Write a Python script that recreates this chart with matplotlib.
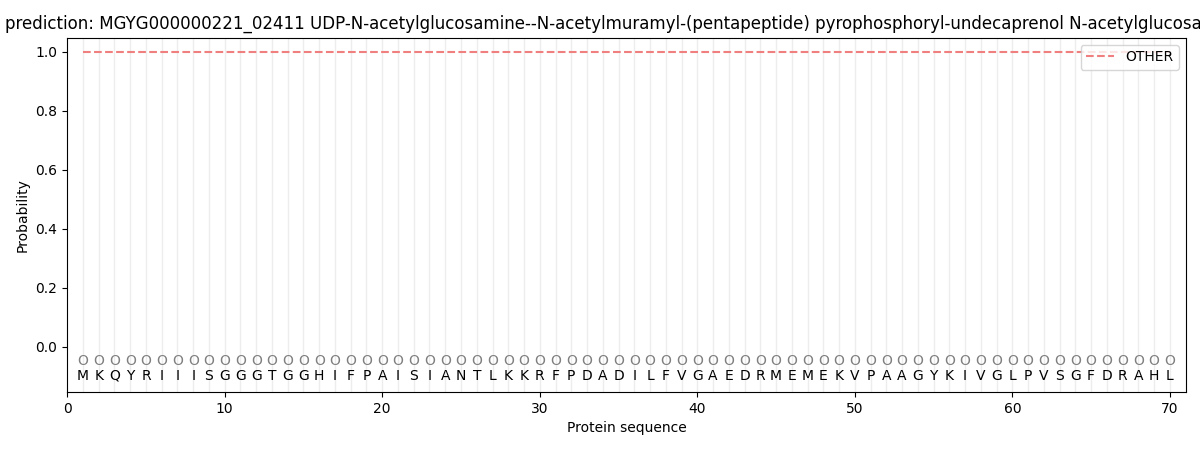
import matplotlib
matplotlib.use("Agg")
import matplotlib.pyplot as plt

sequence = list("MKQYRIIISGGGTGGHIFPAISIANTLKKRFPDADILFVGAEDRMEMEKVPAAGYKIVGLPVSGFDRAHL")
positions = list(range(1, len(sequence) + 1))
prob_other = [1.0] * len(sequence)
pred_labels = ["O"] * len(sequence)
title = ("prediction: MGYG000000221_02411 UDP-N-acetylglucosamine--N-acetylmuramyl-(pentapeptide) "
         "pyrophosphoryl-undecaprenol N-acetylglucosamine transferase")


def main():
    fig, ax = plt.subplots(figsize=(12, 4.5), dpi=100)
    fig.subplots_adjust(left=0.056, right=0.988, top=0.916, bottom=0.129)

    for p in positions:
        ax.axvline(p, color="#dddddd", alpha=0.5, linewidth=1, zorder=0)

    ax.plot(positions, prob_other, linestyle="--", color="lightcoral", label="OTHER")
    for p, aa, lab in zip(positions, sequence, pred_labels):
        ax.text(p, -0.048, lab, ha="center", va="center", fontsize=10, color="grey")
        ax.text(p, -0.098, aa, ha="center", va="center", fontsize=10)

    ax.set_xlim(0, 71)
    ax.set_ylim(-0.153, 1.047)
    ax.set_xlabel("Protein sequence")
    ax.set_ylabel("Probability")
    ax.legend(loc="upper right")
    fig.text(0.004, 0.948, title, ha="left", va="center", fontsize=12)

    fig.savefig("out.png")


if __name__ == "__main__":
    main()
